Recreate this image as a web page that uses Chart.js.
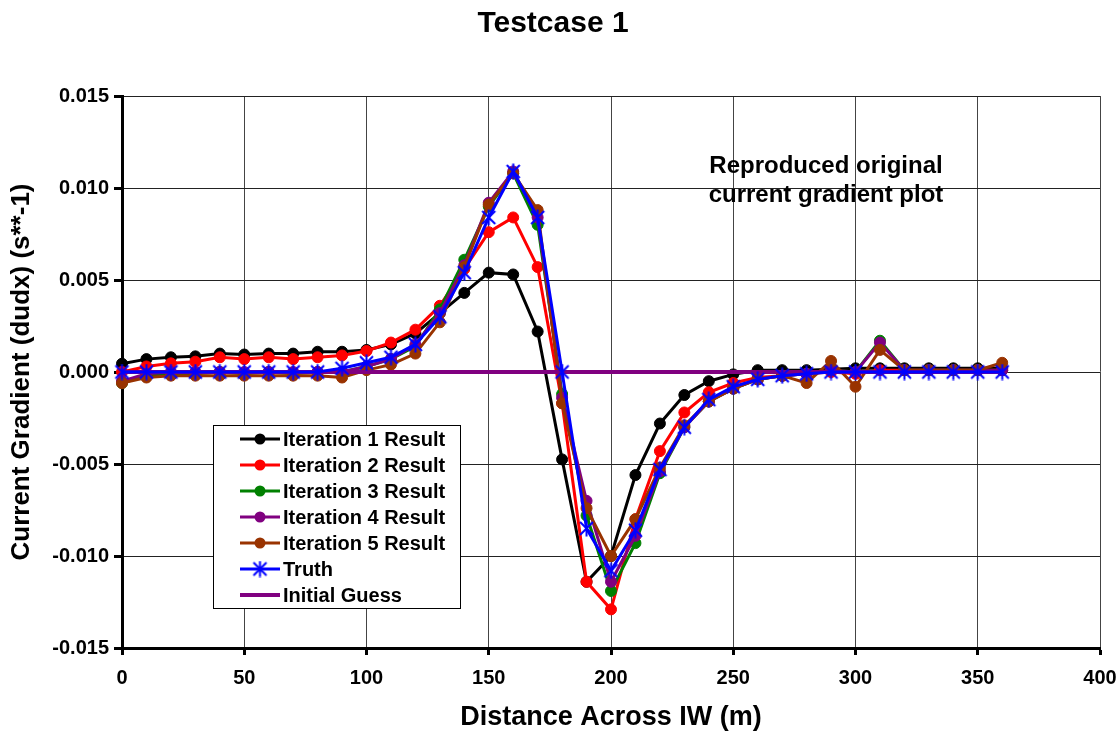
<!DOCTYPE html>
<html>
<head>
<meta charset="utf-8">
<script src="https://cdn.jsdelivr.net/npm/chart.js@4.4.1/dist/chart.umd.min.js"></script>
<style>
  html, body { margin: 0; padding: 0; background: #fff; }
  #wrap { width: 1120px; height: 734px; }
</style>
</head>
<body>
<div id="wrap"><canvas id="gradChart" width="1120" height="734"></canvas></div>
<script>
// distance across IW (m)
const distance = [0, 10, 20, 30, 40, 50, 60, 70, 80, 90, 100, 110, 120, 130, 140, 150, 160, 170, 180,
    190, 200, 210, 220, 230, 240, 250, 260, 270, 280, 290, 300, 310, 320, 330, 340, 350, 360];

// dudx values
const iter1 = [0.00045, 0.0007, 0.0008, 0.00085, 0.001, 0.00095, 0.001, 0.001, 0.0011, 0.0011, 0.0012,
    0.0015, 0.0021, 0.0032, 0.0043, 0.0054, 0.0053, 0.0022, -0.00475, -0.0114, -0.0100, -0.0056, -0.0028,
    -0.00125, -0.0005, -0.00013, 0.0001, 0.0001, 0.0001, 0.00015, 0.0002, 0.0002, 0.0002, 0.0002, 0.0002,
    0.0002, 0.0002];
const iter2 = [0.0, 0.0003, 0.00047, 0.00056, 0.0008, 0.0007, 0.0008, 0.0007, 0.0008, 0.0009, 0.00114,
    0.0016, 0.0023, 0.0036, 0.0056, 0.0076, 0.0084, 0.0057, -0.0017, -0.0114, -0.0129, -0.0080, -0.0043,
    -0.0022, -0.0011, -0.0006, -0.0003, -0.0002, -0.0001, 0.0, -0.0001, 0.0001, 0.0001, 0.0001, 0.0001,
    0.0001, 0.0001];
const iter3 = [-0.0006, -0.0002, -0.0001, -0.0001, 0.0, -0.0001, 0.0, -0.0001, 0.0, 0.0, 0.0003,
    0.0007, 0.0014, 0.0034, 0.0061, 0.0090, 0.0108, 0.0080, -0.0012, -0.0078, -0.0119, -0.0093, -0.0055,
    -0.0030, -0.0016, -0.0009, -0.0004, -0.0002, -0.0001, 0.0001, 0.0, 0.0017, 0.0001, 0.0001, 0.0001,
    0.0001, 0.0001];
const iter4 = [-0.0005, -0.0001, 0.0, 0.0, 0.0, 0.0, 0.0, 0.0, 0.0, 0.0, 0.0003,
    0.0007, 0.0015, 0.0032, 0.0058, 0.0092, 0.0109, 0.0084, -0.0014, -0.0070, -0.0114, -0.0089, -0.0054,
    -0.0030, -0.0016, -0.0009, -0.0004, -0.0002, -0.0001, 0.0001, 0.0, 0.0016, 0.0001, 0.0001, 0.0001,
    0.0001, 0.0001];
const iter5 = [-0.0006, -0.0003, -0.0002, -0.0002, -0.0002, -0.0002, -0.0002, -0.0002, -0.0002, -0.0003, 0.0001,
    0.0004, 0.0010, 0.0027, 0.0057, 0.0091, 0.0108, 0.0088, -0.0017, -0.0074, -0.0100, -0.0080, -0.0052,
    -0.0029, -0.0016, -0.0009, -0.0004, -0.0002, -0.0006, 0.0006, -0.0008, 0.0012, 0.0001, 0.0001, 0.0001,
    0.0001, 0.0005];
const truth = [0.0, 0.0, 0.0, 0.0, 0.0, 0.0, 0.0, 0.0, 0.0, 0.0002, 0.0005,
    0.0008, 0.0015, 0.0030, 0.0054, 0.0084, 0.0109, 0.0084, 0.0, -0.0085, -0.0108, -0.0086, -0.0053,
    -0.0030, -0.0015, -0.0008, -0.0004, -0.0002, -0.0001, 0.0, 0.0, 0.0, 0.0, 0.0, 0.0,
    0.0, 0.0];
const initialGuess = [0, 0, 0, 0, 0, 0, 0, 0, 0, 0, 0, 0, 0, 0, 0, 0, 0, 0, 0,
    0, 0, 0, 0, 0, 0, 0, 0, 0, 0, 0, 0, 0, 0, 0, 0, 0, 0];

const xTicks = [0, 50, 100, 150, 200, 250, 300, 350, 400];
const yTicks = [-0.015, -0.010, -0.005, 0.000, 0.005, 0.010, 0.015];

const FONT = "'Liberation Sans', Arial, sans-serif";

function pts(vals) {
    return vals.map((v, i) => ({ x: distance[i], y: v }));
}

// Excel style asterisk marker (X plus vertical bar)
function makeStar(color) {
    const c = document.createElement("canvas");
    c.width = 17; c.height = 17;
    const g = c.getContext("2d");
    g.strokeStyle = color;
    g.lineWidth = 2;
    g.beginPath();
    g.moveTo(2, 2); g.lineTo(15, 15);
    g.moveTo(15, 2); g.lineTo(2, 15);
    g.moveTo(8.5, 0.5); g.lineTo(8.5, 16.5);
    g.stroke();
    return c;
}
const starMark = makeStar("#0000FF");

function series(label, vals, color, order) {
    return {
        label: label,
        data: pts(vals),
        borderColor: color,
        backgroundColor: color,
        borderWidth: 3,
        pointRadius: 5.5,
        pointBorderWidth: 1,
        pointStyle: "circle",
        order: order,
        clip: false,
    };
}

const datasets = [
    series("Iteration 1 Result", iter1, "#000000", 7),
    series("Iteration 2 Result", iter2, "#FF0000", 6),
    series("Iteration 3 Result", iter3, "#008000", 5),
    series("Iteration 4 Result", iter4, "#800080", 4),
    series("Iteration 5 Result", iter5, "#993300", 3),
    {
        label: "Truth",
        data: pts(truth),
        borderColor: "#0000FF",
        backgroundColor: "#0000FF",
        borderWidth: 3,
        pointStyle: starMark,
        pointRadius: 8,
        order: 1,
        clip: false,
    },
    {
        label: "Initial Guess",
        data: pts(initialGuess),
        borderColor: "#800080",
        borderWidth: 4,
        pointRadius: 0,
        order: 2,
        clip: false,
    },
];

// titles, note and the boxed legend
const extras = {
    id: "extras",
    afterDraw(chart) {
        const ctx = chart.ctx;
        ctx.save();
        ctx.fillStyle = "#000";
        ctx.textAlign = "center";
        ctx.textBaseline = "middle";
        ctx.font = "bold 30px " + FONT;
        ctx.fillText("Testcase 1", 553, 24);
        ctx.font = "bold 24px " + FONT;
        ctx.fillText("Reproduced original", 826, 166);
        ctx.fillText("current gradient plot", 826, 195);

        // legend
        const bx = 213, by = 425, bw = 247, bh = 183;
        ctx.fillStyle = "#fff";
        ctx.fillRect(bx, by, bw, bh);
        ctx.strokeStyle = "#000";
        ctx.lineWidth = 1;
        ctx.strokeRect(bx + 0.5, by + 0.5, bw, bh);
        ctx.font = "bold 20px " + FONT;
        ctx.textAlign = "left";
        const legendOrder = [0, 1, 2, 3, 4, 5, 6];
        legendOrder.forEach((di, row) => {
            const ds = chart.data.datasets[di];
            const y = 439 + row * 26;
            ctx.strokeStyle = ds.borderColor;
            ctx.lineWidth = ds.borderWidth;
            ctx.beginPath();
            ctx.moveTo(240, y);
            ctx.lineTo(280, y);
            ctx.stroke();
            if (ds.pointRadius > 0) {
                if (ds.pointStyle === "circle") {
                    ctx.fillStyle = ds.backgroundColor;
                    ctx.beginPath();
                    ctx.arc(260, y, 5.5, 0, Math.PI * 2);
                    ctx.fill();
                } else {
                    ctx.drawImage(ds.pointStyle, 260 - 8.5, y - 8.5);
                }
            }
            ctx.fillStyle = "#000";
            ctx.fillText(ds.label, 283, y + 1);
        });
        ctx.restore();
    },
};

new Chart(document.getElementById("gradChart"), {
    type: "line",
    data: { datasets: datasets },
    plugins: [extras],
    options: {
        responsive: false,
        animation: false,
        events: [],
        layout: { padding: { top: 96, right: 20, left: 0, bottom: 0 } },
        plugins: {
            legend: { display: false },
            tooltip: { enabled: false },
            title: { display: false },
        },
        scales: {
            x: {
                type: "linear",
                min: 0,
                max: 400,
                afterFit(scale) {
                    scale.height = 86;
                    scale.paddingLeft = 0;
                    scale.paddingRight = 0;
                },
                afterBuildTicks(scale) { scale.ticks = xTicks.map(v => ({ value: v })); },
                ticks: {
                    color: "#000",
                    padding: 11,
                    maxRotation: 0,
                    font: { family: FONT, size: 20, weight: "bold" },
                    callback: v => String(v),
                },
                grid: { color: "#444", lineWidth: 1, tickLength: 7, tickColor: "#000", tickWidth: 3 },
                border: { color: "#000", width: 3 },
                title: {
                    display: true,
                    text: "Distance Across IW (m)",
                    color: "#000",
                    padding: { top: 0, bottom: 0 },
                    font: { family: FONT, size: 27, weight: "bold" },
                },
            },
            y: {
                type: "linear",
                min: -0.015,
                max: 0.015,
                afterFit(scale) {
                    scale.width = 122;
                    scale.paddingTop = 0;
                    scale.paddingBottom = 0;
                },
                afterBuildTicks(scale) { scale.ticks = yTicks.map(v => ({ value: v })); },
                ticks: {
                    color: "#000",
                    padding: 5,
                    font: { family: FONT, size: 20, weight: "bold" },
                    callback: v => v.toFixed(3),
                },
                grid: { color: "#222", lineWidth: 1, tickLength: 8, tickColor: "#000", tickWidth: 3 },
                border: { color: "#000", width: 3 },
                title: {
                    display: true,
                    text: "Current Gradient (dudx) (s**-1)",
                    color: "#000",
                    padding: { top: 6, bottom: 0 },
                    font: { family: FONT, size: 26, weight: "bold" },
                },
            },
        },
    },
});
</script>
</body>
</html>
